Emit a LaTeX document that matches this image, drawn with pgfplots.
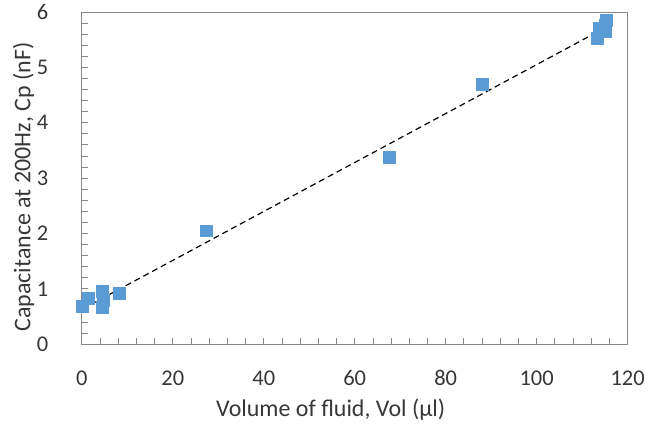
\documentclass[border=0pt]{standalone}
\usepackage{fontspec}
\setmainfont{Carlito}
\usepackage{pgfplots}
\pgfplotsset{compat=1.18}
\definecolor{ptblue}{RGB}{91,155,213}
\definecolor{framegray}{RGB}{134,134,134}
\definecolor{txt}{RGB}{55,55,55}

\begin{document}
\begin{tikzpicture}
\begin{axis}[
    name=ax,
    scale only axis,
    width=547pt, height=333pt,
    xmin=0, xmax=120,
    ymin=0, ymax=6,
    xtick={0,20,...,120},
    ytick={0,1,...,6},
    minor x tick num=4,
    minor y tick num=4,
    xtick align=inside, ytick align=inside,
    major tick length=6pt,
    minor tick length=6pt,
    every tick/.style={draw=framegray, line width=0.8pt},
    every minor tick/.style={draw=framegray, line width=0.8pt},
    axis line style={framegray, line width=0.9pt},
    xtick pos=bottom, ytick pos=left,
    axis on top,
    /pgf/number format/assume math mode=true,
    ticklabel style={font=\fontsize{22.5}{24}\selectfont, text=txt},
    label style={font=\fontsize{24}{26}\selectfont, text=txt},
    xticklabel style={yshift=-34pt, anchor=center},
    yticklabel style={xshift=-30pt},
    xlabel={Volume of fluid, Vol (µl)},
    ylabel={Capacitance at 200Hz, Cp (nF)},
    xlabel style={yshift=-6pt, xshift=-24pt},
    ylabel style={yshift=-4pt, xshift=-9pt},
    clip=false,
]
% measured points
\addplot[only marks, mark=square*, mark size=6pt, ptblue, mark options={draw=ptblue, fill=ptblue}] coordinates {
    (0,0.68) (1.5,0.83) (4.4,0.95) (4.4,0.67) (4.6,0.8) (8.3,0.92)
    (27.4,2.05) (67.5,3.37) (88,4.70)
    (113.3,5.53) (113.8,5.70) (115,5.65) (115,5.76) (115.2,5.85)
};
% dashed trend line
\addplot[black, line width=1.2pt, dash pattern=on 6pt off 4pt] coordinates {
    (0,0.63) (114.5,5.69)
};
\end{axis}
\path ([xshift=-82pt,yshift=-78pt]ax.south west) rectangle ([xshift=19pt,yshift=12pt]ax.north east);
\end{tikzpicture}
\end{document}
